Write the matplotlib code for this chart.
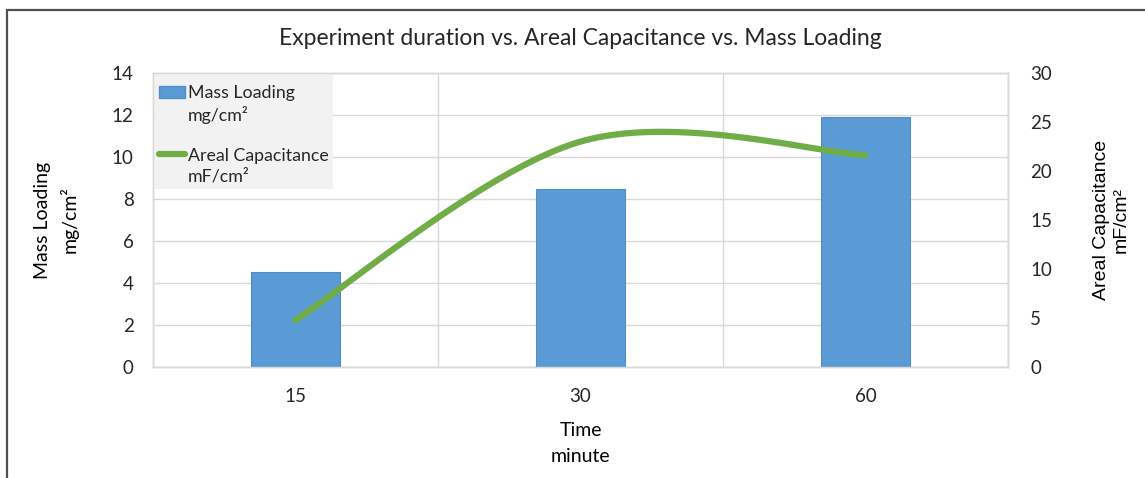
import numpy as np
import matplotlib
matplotlib.use("Agg")
import matplotlib.pyplot as plt
from matplotlib.patches import Patch, Rectangle
from matplotlib.lines import Line2D

# experiment data
durations = ["15", "30", "60"]
mass_loading = [4.52, 8.48, 11.9]          # mg/cm²
areal_capacitance = [4.8, 23.0, 21.6]      # mF/cm²

plt.rcParams["font.family"] = ["Lato", "DejaVu Sans"]
plt.rcParams["text.color"] = "#262626"

BLUE = "#5B9BD5"
GREEN = "#70AD47"
GRID = "#D9D9D9"


def smooth(xs, ys, n=60):
    # Catmull-Rom style bezier smoothing through the points
    px = np.asarray(xs, float)
    py = np.asarray(ys, float)
    out_x, out_y = [], []
    t = np.linspace(0, 1, n)
    for i in range(len(px) - 1):
        i0 = max(i - 1, 0)
        i3 = min(i + 2, len(px) - 1)
        c1x = px[i] + (px[i + 1] - px[i0]) / 6
        c1y = py[i] + (py[i + 1] - py[i0]) / 6
        c2x = px[i + 1] - (px[i3] - px[i]) / 6
        c2y = py[i + 1] - (py[i3] - py[i]) / 6
        b0 = (1 - t) ** 3
        b1 = 3 * (1 - t) ** 2 * t
        b2 = 3 * (1 - t) * t ** 2
        b3 = t ** 3
        out_x.append(b0 * px[i] + b1 * c1x + b2 * c2x + b3 * px[i + 1])
        out_y.append(b0 * py[i] + b1 * c1y + b2 * c2y + b3 * py[i + 1])
    return np.concatenate(out_x), np.concatenate(out_y)


fig = plt.figure(figsize=(11.45, 4.78), dpi=100)
ax = fig.add_axes([153 / 1145, 1 - 367 / 478, 855 / 1145, 294 / 478])
ax2 = ax.twinx()

x = np.arange(len(durations))
ax.bar(x, mass_loading, width=0.31, color=BLUE, edgecolor="#4F8ECA",
       linewidth=0.8, zorder=3)

sx, sy = smooth(x, areal_capacitance)
ax2.plot(sx, sy, color=GREEN, lw=4.5, solid_capstyle="round", zorder=4)

ax.set_xlim(-0.5, 2.5)
ax.set_ylim(0, 14)
ax.set_yticks(np.arange(0, 15, 2))
ax2.set_ylim(0, 30)
ax2.set_yticks(np.arange(0, 31, 5))
ax.set_xticks(x)
ax.set_xticklabels(durations)

# gridlines: horizontal from left axis, vertical at category boundaries
ax.set_xticks([-0.5, 0.5, 1.5, 2.5], minor=True)
ax.grid(axis="y", color=GRID, lw=1, zorder=0)
ax.grid(axis="x", which="minor", color=GRID, lw=1, zorder=0)
ax.tick_params(which="both", length=0)
ax.tick_params(axis="y", labelsize=13.5, pad=14, colors="#262626")
ax.tick_params(axis="x", labelsize=13.5, pad=15, colors="#262626")
ax2.tick_params(axis="y", length=0, labelsize=13.5, pad=16, colors="#262626")
for a in (ax, ax2):
    for s in a.spines.values():
        s.set_color(GRID)
        s.set_linewidth(1)

ax.set_title("Experiment duration vs. Areal Capacitance vs. Mass Loading",
             fontsize=16.5, pad=20)
ax.set_xlabel("Time\nminute", fontsize=14, labelpad=12, linespacing=1.7)
ax.set_ylabel("Mass Loading\nmg/cm²", fontsize=14, labelpad=24,
              linespacing=1.55)
ax2.set_ylabel("Areal Capacitance\nmF/cm²", fontsize=14, labelpad=29,
               linespacing=1.25, family=["Liberation Sans", "DejaVu Sans"])

handles = [Patch(facecolor=BLUE, edgecolor="#4F8ECA"),
           Line2D([], [], color="none"),
           Line2D([], [], color="none"),
           Line2D([], [], color=GREEN, lw=4.5, solid_capstyle="round"),
           Line2D([], [], color="none")]
labels = ["Mass Loading", "mg/cm²", " ", "Areal Capacitance", "mF/cm²"]
leg = ax2.legend(handles, labels, loc="upper left", bbox_to_anchor=(0, 1),
                 borderaxespad=0.1, fontsize=12.8, frameon=True,
                 facecolor="#F2F2F2", edgecolor="none", fancybox=False,
                 framealpha=1, handlelength=1.45, handletextpad=0.15,
                 labelspacing=0.28, borderpad=0.25,
                 title=" ", title_fontsize=1)
leg.get_texts()[2].set_fontsize(3)

# chart area border
fig.patches.append(Rectangle((7 / 1145, -0.1), 1.2, 1 - 10 / 478 + 0.1,
                             transform=fig.transFigure, fill=False,
                             edgecolor="#505050", lw=1.6))

fig.savefig("out.png", dpi=100)
